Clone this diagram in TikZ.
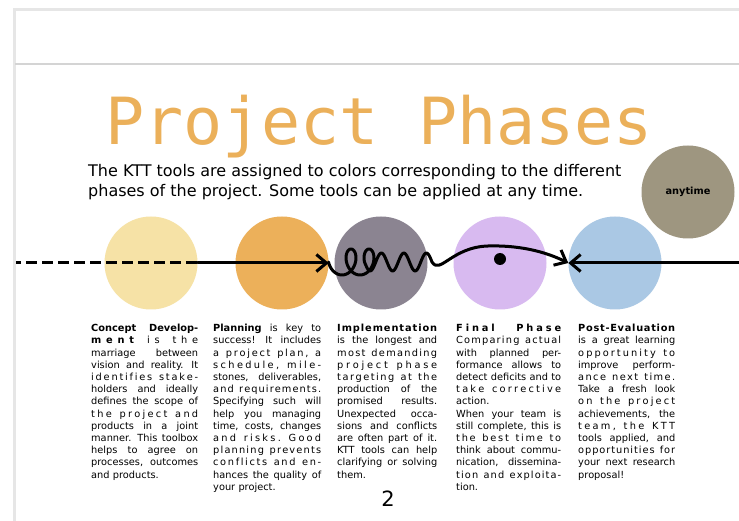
\documentclass[tikz,border=0pt]{standalone}
\usepackage{fontspec}
\setmainfont{DejaVu Sans}
\newfontfamily\titlefont{DejaVu Sans Mono}
\usetikzlibrary{arrows.meta}
\usetikzlibrary{calc}

\definecolor{conceptcol}{RGB}{246,226,166}
\definecolor{plancol}{RGB}{236,176,90}
\definecolor{implcol}{RGB}{139,132,145}
\definecolor{finalcol}{RGB}{216,186,240}
\definecolor{postcol}{RGB}{170,200,228}
\definecolor{anycol}{RGB}{158,150,128}
\definecolor{titlecol}{RGB}{235,176,90}
\definecolor{framecol}{RGB}{230,230,230}
\definecolor{rulecol}{RGB}{212,212,212}

% lines of the column texts: word-spread, letter-spread (~ for spaces), last line
\ExplSyntaxOn
\NewDocumentCommand{\wdline}{m}
  {
    \seq_set_split:Nnn \l_tmpa_seq { ~ } {#1}
    \hbox to \hsize {\seq_use:Nn \l_tmpa_seq { \c_space_tl \hfil }}
  }
\NewDocumentCommand{\lsline}{m}
  {\hbox to \hsize {\tl_map_inline:nn {#1} {\token_if_cs:NTF ##1 {##1} {##1\hfil}} \hskip 0pt plus -1fil}}
\ExplSyntaxOff
\newcommand{\lastline}[1]{\hbox{#1}}

\begin{document}
\begin{tikzpicture}[x=1pt, y=-1pt,
    phasedisc/.style={circle, minimum size=93pt, inner sep=0pt},
    phaseline/.style={line width=3pt, line cap=round, line join=round},
    phasearrow/.style={phaseline, -{Straight Barb[length=10pt, width=17pt]}},
    coltext/.style={anchor=north west, inner sep=0pt, font=\fontsize{9.8}{12.2}\selectfont}]
    \fill[white] (0,0) rectangle (739,521);
    \useasboundingbox (0,0) rectangle (739,521);
    % page frame
    \draw[framecol, line width=3pt] (14,521) -- (14,10) -- (739,10);
    \draw[rulecol, line width=1.5pt] (15,64) -- (739,64);
    % heading
    \node[font=\titlefont\fontsize{65}{65}\selectfont, text=titlecol, anchor=base] (title) at (379,145) {Project Phases};
    \node[anchor=north west, inner sep=0pt, align=left, font=\fontsize{16}{20}\selectfont] (intro) at (88,164)
        {The KTT tools are assigned to colors corresponding to the different\\phases of the project. Some tools can be applied at any time.};
    % phases
    \foreach \n/\x/\c in {cdev/151/conceptcol, plan/282/plancol, impl/381/implcol, fin/500/finalcol, post/615/postcol} {
        \node[phasedisc, fill=\c] (\n) at (\x,263) {};
    }
    \node[phasedisc, fill=anycol, font=\fontsize{9.8}{12}\selectfont\bfseries] (any) at (688,192) {anytime};
    \coordinate (lend) at (16,263);
    \coordinate (rend) at (739,263);
    \draw[phaseline, line cap=butt, dash pattern=on 11pt off 5pt, dash phase=6pt] (lend) -- (cdev.east);
    \draw[phasearrow] (cdev.east) -- (plan.east);
    \draw[phasearrow] (plan.east)
        -- plot[domain=-90:630, samples=90, variable=\t] ({342+0.05*\t+9*sin(\t)}, {262+13*cos(\t)})
        -- plot[domain=364.5:432, samples=60, variable=\u] (\u, {262+9*sin(16*(\u-364.5))})
        .. controls (440,275) and (452,247) .. (488,246)
        .. controls (525,245) and (550,254) .. (post.west);
    \node[circle, fill=black, minimum size=12pt, inner sep=0pt] (spot) at (500,259) {};
    \draw[phasearrow] (rend) -- (post.west);
    % columns
    \node[coltext, text width=107pt] (tcdev) at (91,324) {%
        \wdline{\textbf{Concept} \textbf{Develop-}}
        \lsline{\bfseries ment\mdseries~is~the}
        \wdline{marriage between}
        \wdline{vision and reality. It}
        \lsline{identifies~stake-}
        \wdline{holders and ideally}
        \wdline{defines the scope of}
        \lsline{the~project~and}
        \wdline{products in a joint}
        \wdline{manner. This toolbox}
        \wdline{helps to agree on}
        \wdline{processes, outcomes}
        \lastline{and products.}};
    \node[coltext, text width=108pt] (tplan) at (213,324) {%
        \wdline{\textbf{Planning} is key to}
        \wdline{success! It includes}
        \lsline{a~project~plan,~a}
        \lsline{schedule,~mile-}
        \wdline{stones, deliverables,}
        \lsline{and~requirements.}
        \wdline{Specifying such will}
        \wdline{help you managing}
        \wdline{time, costs, changes}
        \lsline{and~risks.~Good}
        \lsline{planning~prevents}
        \lsline{conflicts~and~en-}
        \wdline{hances the quality of}
        \lastline{your project.}};
    \node[coltext, text width=100pt] (timpl) at (337,324) {%
        \lsline{\bfseries Implementation}
        \wdline{is the longest and}
        \lsline{most~demanding}
        \lsline{project~phase}
        \lsline{targeting~at~the}
        \wdline{production of the}
        \wdline{promised results.}
        \wdline{Unexpected occa-}
        \wdline{sions and conflicts}
        \wdline{are often part of it.}
        \wdline{KTT tools can help}
        \wdline{clarifying or solving}
        \lastline{them.}};
    \node[coltext, text width=105pt] (tfin) at (456,324) {%
        \lsline{\bfseries Final~~~Phase}
        \lsline{Comparing~actual}
        \wdline{with planned per-}
        \wdline{formance allows to}
        \wdline{detect deficits and to}
        \lsline{take~corrective}
        \lastline{action.}
        \wdline{When your team is}
        \wdline{still complete, this is}
        \lsline{the~best~time~to}
        \wdline{think about commu-}
        \wdline{nication, dissemina-}
        \lsline{tion~and~exploita-}
        \lastline{tion.}};
    \node[coltext, text width=97pt] (tpost) at (578,324) {%
        \lsline{\bfseries Post-Evaluation}
        \wdline{is a great learning}
        \lsline{opportunity~to}
        \wdline{improve perform-}
        \lsline{ance~next~time.}
        \wdline{Take a fresh look}
        \lsline{on~the~project}
        \wdline{achievements, the}
        \lsline{team,~the~KTT}
        \wdline{tools applied, and}
        \lsline{opportunities~for}
        \wdline{your next research}
        \lastline{proposal!}};
    \node[font=\fontsize{21}{21}\selectfont, anchor=base] (pnum) at (388,506) {2};
\end{tikzpicture}
\end{document}
